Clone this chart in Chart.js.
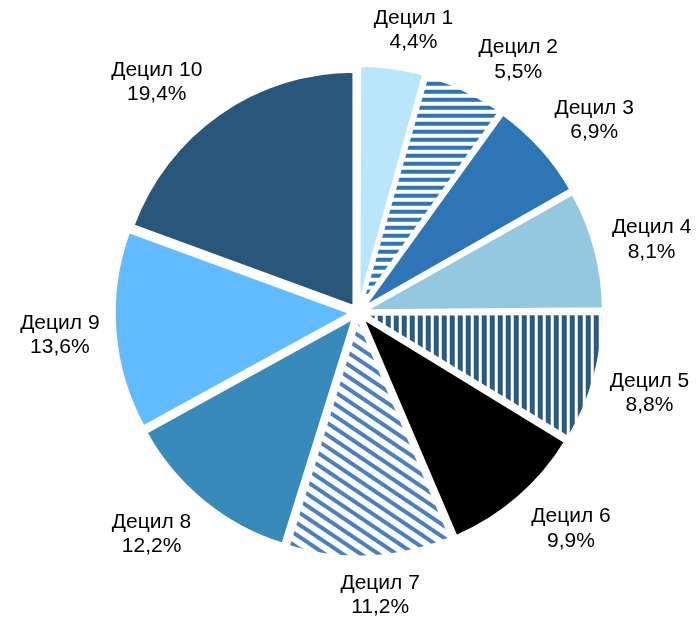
<!DOCTYPE html>
<html lang="ru">
<head>
    <meta charset="utf-8">
    <script src="https://cdn.jsdelivr.net/npm/chart.js"></script>
    <style>
        body {
            margin: 0;
            background-color: #ffffff;
        }
        #wrap {
            position: relative;
            width: 700px;
            height: 619px;
        }
    </style>
</head>
<body>
    <div id="wrap">
        <canvas id="pieChart"></canvas>
    </div>
    <script>
        // Data: share of each decile group, %
        const deciles = ['Децил 1', 'Децил 2', 'Децил 3', 'Децил 4', 'Децил 5',
                         'Децил 6', 'Децил 7', 'Децил 8', 'Децил 9', 'Децил 10'];
        const shares = [4.4, 5.5, 6.9, 8.1, 8.8, 9.9, 11.2, 12.2, 13.6, 19.4];

        // Striped fill: horizontal bands in a tile, rotated to the wanted angle
        function stripes(color, period, thick, angle) {
            const tile = document.createElement('canvas');
            tile.width = period;
            tile.height = period;
            const c = tile.getContext('2d');
            c.fillStyle = '#ffffff';
            c.fillRect(0, 0, period, period);
            c.fillStyle = color;
            c.fillRect(0, 0, period, thick);
            const p = c.createPattern(tile, 'repeat');
            if (angle) p.setTransform(new DOMMatrix().rotateSelf(angle));
            return p;
        }

        const sliceFills = [
            '#b9e6fa',
            stripes('#2e75b6', 8, 4, 0),
            '#2e75b6',
            '#93c8e0',
            stripes('#2a5a80', 8, 5, 90),
            '#000000',
            stripes('#4a7fc4', 10, 4, 34),
            '#378ab9',
            '#63bbff',
            '#29577b'
        ];

        // Labels outside the pie: name on the first line, share on the second.
        // The text box is pushed out along the slice direction until its
        // nearest point is `gap` px beyond the outer radius.
        const outsideLabels = {
            id: 'outsideLabels',
            afterDatasetsDraw(chart, args, opts) {
                const ctx = chart.ctx;
                const arcs = chart.getDatasetMeta(0).data;
                ctx.save();
                ctx.font = opts.font;
                ctx.fillStyle = opts.color;
                ctx.textAlign = 'center';
                ctx.textBaseline = 'middle';
                arcs.forEach((arc, i) => {
                    const p = arc.getProps(['x', 'y', 'startAngle', 'endAngle', 'outerRadius'], true);
                    const a = (p.startAngle + p.endAngle) / 2 + (opts.shift[i] || 0) * Math.PI / 180;
                    const lines = [deciles[i], shares[i].toFixed(1).replace('.', ',') + '%'];
                    const w = Math.max(...lines.map(t => ctx.measureText(t).width));
                    const h = lines.length * opts.lineHeight;
                    const dx = Math.cos(a), dy = Math.sin(a);
                    const r = p.outerRadius + opts.gap;
                    const nearest = d => Math.hypot(
                        Math.max(Math.abs(d * dx) - w / 2, 0),
                        Math.max(Math.abs(d * dy) - h / 2, 0));
                    let d = r;
                    while (nearest(d) < r) d += 0.5;
                    const cx = p.x + dx * d;
                    const cy = p.y + dy * d;
                    lines.forEach((t, k) => {
                        ctx.fillText(t, cx, cy + (k - (lines.length - 1) / 2) * opts.lineHeight);
                    });
                });
                ctx.restore();
            }
        };

        new Chart(document.getElementById('pieChart'), {
            type: 'pie',
            data: {
                labels: deciles,
                datasets: [{
                    data: shares,
                    backgroundColor: sliceFills,
                    borderColor: '#ffffff',
                    borderWidth: 3,
                    offset: 28
                }]
            },
            options: {
                responsive: true,
                maintainAspectRatio: false,
                animation: false,
                radius: 235,
                layout: {
                    padding: { left: 16, right: 0, top: 6, bottom: 0 }
                },
                plugins: {
                    legend: { display: false },
                    tooltip: { enabled: false },
                    outsideLabels: {
                        font: '21px "Liberation Sans", Arial, sans-serif',
                        color: '#000000',
                        lineHeight: 24.5,
                        gap: 23,
                        shift: [3.2, 6.6, 2.8, 1, 0, -3.7, -1.6, 3.7, 0, -6.2]
                    }
                }
            },
            plugins: [outsideLabels]
        });
    </script>
</body>
</html>
